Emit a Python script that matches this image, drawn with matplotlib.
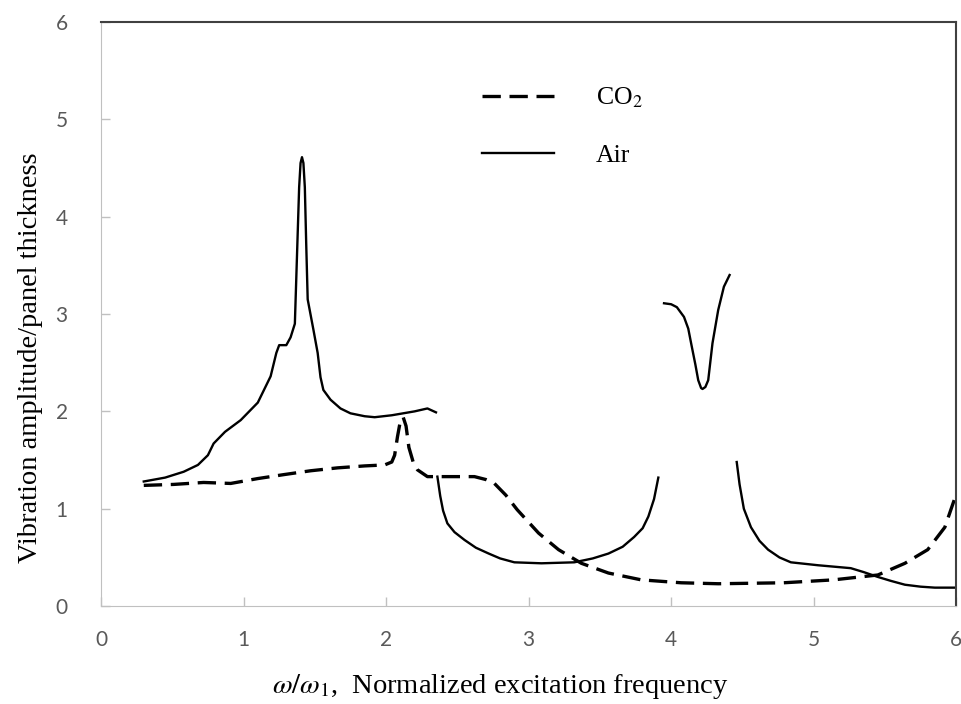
import matplotlib
matplotlib.use("Agg")
import matplotlib.pyplot as plt

# Air (solid) - the curve is drawn in four separate pieces
air_x1 = [0.30, 0.45, 0.58, 0.68, 0.75, 0.79, 0.87, 0.98, 1.10, 1.19, 1.23, 1.25,
          1.30, 1.33, 1.36, 1.375, 1.39, 1.40, 1.41, 1.42, 1.43, 1.44, 1.45, 1.49,
          1.52, 1.54, 1.56, 1.61, 1.68, 1.75, 1.85, 1.92, 2.04, 2.20, 2.29, 2.35]
air_y1 = [1.28, 1.32, 1.38, 1.45, 1.55, 1.67, 1.79, 1.91, 2.09, 2.36, 2.60, 2.68,
          2.68, 2.76, 2.90, 3.60, 4.30, 4.55, 4.61, 4.55, 4.30, 3.70, 3.15, 2.84,
          2.60, 2.35, 2.22, 2.12, 2.03, 1.98, 1.95, 1.94, 1.96, 2.00, 2.03, 1.99]
air_x2 = [2.36, 2.38, 2.40, 2.43, 2.48, 2.55, 2.63, 2.72, 2.80, 2.90, 3.09, 3.32,
          3.45, 3.56, 3.66, 3.74, 3.80, 3.84, 3.88, 3.91]
air_y2 = [1.33, 1.13, 0.98, 0.85, 0.76, 0.68, 0.60, 0.54, 0.49, 0.45, 0.44, 0.45,
          0.49, 0.54, 0.61, 0.71, 0.80, 0.92, 1.10, 1.32]
air_x3 = [3.95, 4.00, 4.04, 4.09, 4.12, 4.14, 4.17, 4.19, 4.21, 4.22, 4.24, 4.26,
          4.29, 4.33, 4.37, 4.41]
air_y3 = [3.11, 3.10, 3.07, 2.97, 2.85, 2.70, 2.48, 2.32, 2.24, 2.23, 2.25, 2.32,
          2.70, 3.04, 3.28, 3.40]
air_x4 = [4.46, 4.48, 4.51, 4.56, 4.62, 4.68, 4.76, 4.84, 5.03, 5.26, 5.35, 5.45,
          5.54, 5.64, 5.75, 5.85, 6.00]
air_y4 = [1.48, 1.25, 1.00, 0.81, 0.67, 0.58, 0.50, 0.45, 0.42, 0.39, 0.35, 0.30,
          0.26, 0.22, 0.20, 0.19, 0.19]

# CO2 (dashed)
co2_x = [0.30, 0.51, 0.72, 0.91, 1.10, 1.28, 1.47, 1.66, 1.85, 1.99, 2.04, 2.06,
         2.08, 2.10, 2.12, 2.14, 2.16, 2.19, 2.22, 2.29, 2.43, 2.62, 2.70, 2.76,
         2.84, 2.92, 3.07, 3.21, 3.37, 3.56, 3.79, 4.07, 4.33, 4.79, 5.14, 5.45,
         5.64, 5.80, 5.92, 6.00]
co2_y = [1.24, 1.25, 1.27, 1.26, 1.31, 1.35, 1.39, 1.42, 1.44, 1.45, 1.48, 1.55,
         1.74, 1.90, 1.94, 1.85, 1.63, 1.48, 1.40, 1.33, 1.33, 1.33, 1.30, 1.26,
         1.14, 0.99, 0.75, 0.58, 0.44, 0.34, 0.27, 0.24, 0.23, 0.24, 0.27, 0.32,
         0.44, 0.58, 0.81, 1.15]

ticks = [0, 1, 2, 3, 4, 5, 6]

plt.rcParams["mathtext.fontset"] = "stix"

fig = plt.figure(figsize=(9.62, 7.04), dpi=100)
ax = fig.add_axes([0.105, 0.139, 0.889, 0.830])

ax.plot(co2_x, co2_y, color="black", lw=2.4, dashes=(5.5, 2.6), label="CO$_2$")
ax.plot(air_x1, air_y1, color="black", lw=1.7, label="Air")
ax.plot(air_x2, air_y2, color="black", lw=1.7)
ax.plot(air_x3, air_y3, color="black", lw=1.7)
ax.plot(air_x4, air_y4, color="black", lw=1.7)

ax.set_xlim(0, 6)
ax.set_ylim(0, 6)
ax.set_xticks(ticks)
ax.set_yticks(ticks)
ax.tick_params(direction="in", length=6.5, width=1, color="#c0c0c0",
               labelcolor="#595959", labelsize=15)
ax.tick_params(axis="x", pad=17)
ax.tick_params(axis="y", pad=24)
for lab in ax.get_xticklabels() + ax.get_yticklabels():
    lab.set_family("Lato")

for side in ["left", "bottom"]:
    ax.spines[side].set_color("#c0c0c0")
for side in ["top", "right"]:
    ax.spines[side].set_color("#404040")
    ax.spines[side].set_linewidth(1.5)

serif = "Liberation Serif"
ax.set_xlabel(r"$\omega/\omega_1$,  Normalized excitation frequency",
              family=serif, fontsize=20.5)
ax.xaxis.set_label_coords(0.467, -0.112)
ax.set_ylabel("Vibration amplitude/panel thickness", family=serif, fontsize=20.5)
ax.yaxis.set_label_coords(-0.068, 0.425)

leg = ax.legend(loc="upper left", bbox_to_anchor=(0.419, 0.93), frameon=False,
                prop={"family": serif, "size": 18.5}, handlelength=2.8,
                handletextpad=1.6, labelspacing=1.3)

fig.savefig("out.png", dpi=100)
